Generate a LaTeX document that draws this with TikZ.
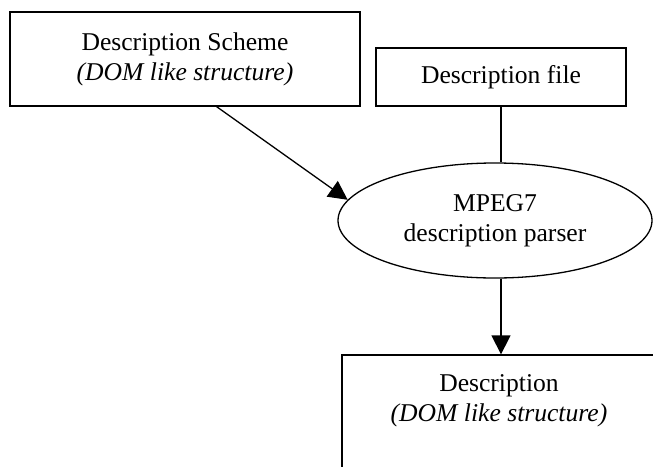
\documentclass[tikz,border=0pt]{standalone}
\usepackage{fontspec}
\setmainfont{Liberation Serif}
\usetikzlibrary{shapes.geometric,arrows.meta,calc}

\begin{document}
\begin{tikzpicture}[x=1pt,y=-1pt,
  every node/.style={font=\fontsize{25.6}{30}\selectfont, align=center, inner sep=0pt},
  box/.style={draw, line width=1.3pt, rectangle},
  parser/.style={draw, line width=1.3pt, ellipse},
  link/.style={line width=1.3pt},
  flow/.style={line width=1.3pt, -{Triangle[length=19pt,width=19pt]}}]

\useasboundingbox (0,0) rectangle (653,466);
\clip (0,0) rectangle (653,466);

% input boxes
\node[box, minimum width=350pt, minimum height=94pt] (scheme) at (185,59)
  {Description Scheme\\\textit{(DOM like structure)}};
\node[box, minimum width=250pt, minimum height=58pt] (file) at (501,77)
  {Description file};

% parser
\node[parser, minimum width=314pt, minimum height=115pt] (parser) at (495,220.5)
  {MPEG7\\description parser};

% output box (runs past the lower and right edges)
\node[box, minimum width=316pt, minimum height=130pt] (result) at (500,420) {};
\node (resulttext) at (499,401) {Description\\\textit{(DOM like structure)}};

% connectors
\draw[flow] ($(scheme.south west)!0.59!(scheme.south east)$) -- (parser.172);
\draw[link] (file.south) -- (file.south |- parser.north);
\draw[flow] (file.south |- parser.south) -- (file.south |- result.north);

\end{tikzpicture}
\end{document}
